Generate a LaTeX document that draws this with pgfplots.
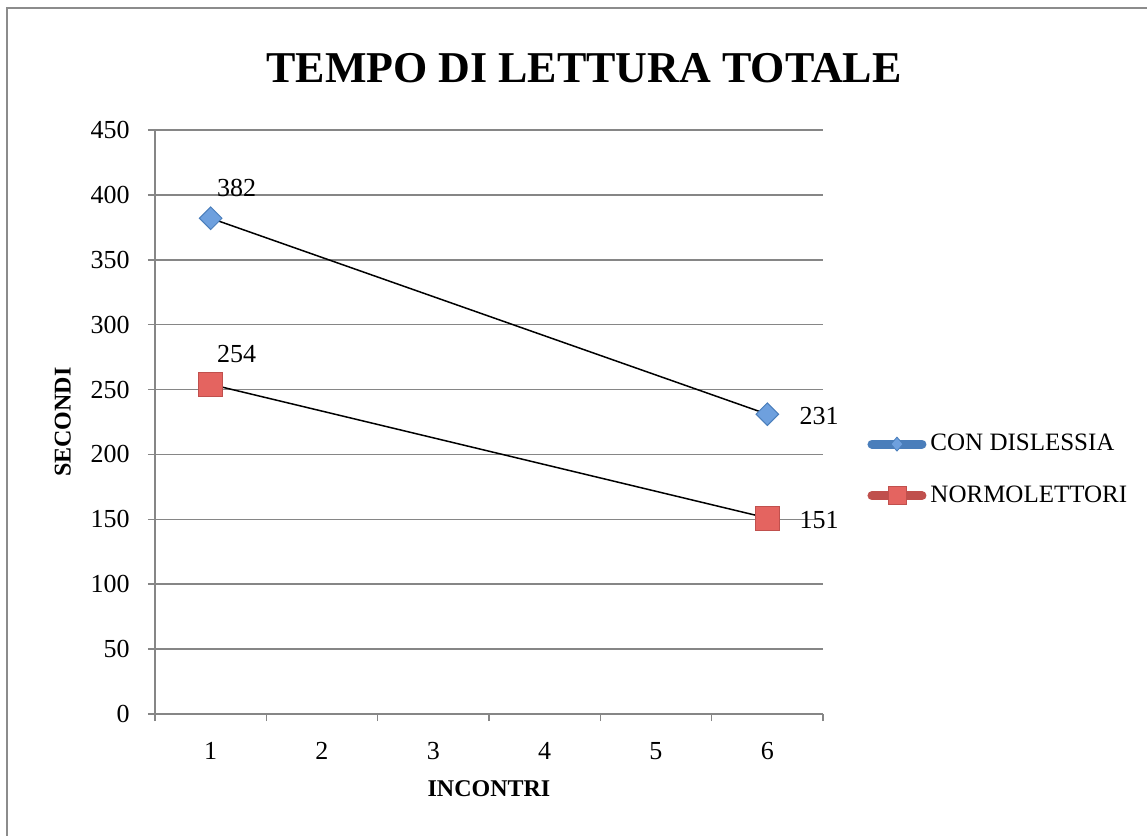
\documentclass[border=0pt]{standalone}
\usepackage{pgfplots}
\pgfplotsset{compat=1.18}
\usepackage{fontspec}
\setmainfont{Liberation Serif}
\definecolor{gridgray}{RGB}{134,134,134}
\definecolor{framegray}{RGB}{140,140,140}
\definecolor{dblue}{RGB}{74,126,187}
\definecolor{lblue}{RGB}{110,160,222}
\definecolor{dred}{RGB}{192,80,77}
\definecolor{lred}{RGB}{228,100,96}
\begin{document}
\begin{tikzpicture}
\path[use as bounding box] (0,0) rectangle (573.5pt,418pt);
\draw[framegray, line width=1pt] (3.5pt,0pt) -- (3.5pt,414pt) -- (573.5pt,414pt);
\node[font=\fontsize{22}{26}\selectfont\bfseries] at (292pt,384pt) {TEMPO DI LETTURA TOTALE};
\begin{axis}[
  at={(77.5pt,61pt)}, anchor=south west,
  scale only axis, width=334pt, height=292pt,
  xmin=0.5, xmax=6.5, ymin=0, ymax=450,
  ytick={0,50,...,450},
  xtick={0.5,1.5,...,6.5},
  xticklabels={1,2,3,4,5,6,{}},
  /pgf/number format/assume math mode=true,
  axis x line*=bottom, axis y line*=left,
  axis line style={gridgray, line width=0.75pt, -},
  ymajorgrids, grid style={gridgray, line width=0.75pt},
  tick align=outside, major tick length=3.5pt,
  tick style={gridgray, line width=0.75pt},
  tick label style={font=\fontsize{13}{15}\selectfont, inner sep=0pt},
  yticklabel style={xshift=-9pt},
  xticklabel style={xshift=27.83pt, yshift=-10.5pt},
  xlabel={\textbf{INCONTRI}}, ylabel={\textbf{SECONDI}},
  label style={font=\fontsize{12}{14}\selectfont},
  xlabel style={at={(axis description cs:0.5,-0.128)}, anchor=center},
  ylabel style={at={(axis description cs:-0.138,0.5)}, anchor=center},
  legend style={at={(axis description cs:1.066,0.418)}, anchor=west, draw=none, fill=none,
    inner sep=0pt, row sep=12pt, font=\fontsize{12.5}{15}\selectfont},
  legend cell align=left,
  clip=false,
]
\addplot[black, line width=0.75pt, mark=square*, mark size=4pt,
  mark options={rotate=45, fill=lblue, draw=dblue, line width=0.5pt},
  legend image code/.code={
    \draw[dblue, line width=4.5pt, line cap=round] (0pt,0pt) -- (25pt,0pt);
    \draw[dblue, fill=lblue, line width=0.4pt] (12.5pt,3.5pt) -- (15.5pt,0pt) -- (12.5pt,-3.5pt) -- (9.5pt,0pt) -- cycle;
  }] coordinates {(1,382) (6,231)};
\addlegendentry{CON DISLESSIA}
\addplot[black, line width=0.75pt, mark=square*, mark size=6pt,
  mark options={fill=lred, draw=dred, line width=0.5pt},
  legend image code/.code={
    \draw[dred, line width=4.5pt, line cap=round] (0pt,0pt) -- (25pt,0pt);
    \draw[dred, fill=lred, line width=0.4pt] (8pt,-4.5pt) rectangle (17pt,4.5pt);
  }] coordinates {(1,254) (6,151)};
\addlegendentry{NORMOLETTORI}
\addplot[draw=none, mark=none, forget plot, nodes near coords,
  nodes near coords style={anchor=south west, inner sep=0pt, xshift=3pt, yshift=10.5pt,
  font=\fontsize{13}{15}\selectfont}] coordinates {(1,382) (1,254)};
\addplot[draw=none, mark=none, forget plot, nodes near coords,
  nodes near coords style={anchor=west, inner sep=0pt, xshift=16pt, yshift=-1pt,
  font=\fontsize{13}{15}\selectfont}] coordinates {(6,231) (6,151)};
\end{axis}
\end{tikzpicture}
\end{document}
